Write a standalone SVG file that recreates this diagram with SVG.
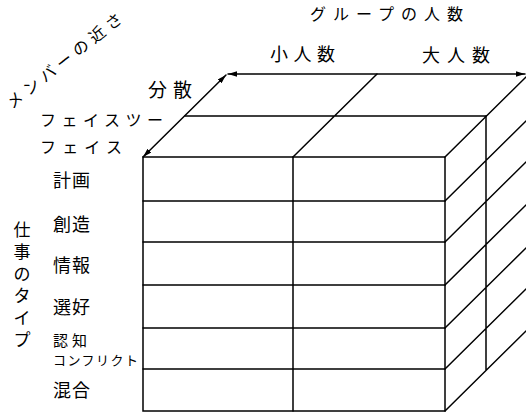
<svg xmlns="http://www.w3.org/2000/svg" width="526" height="415" viewBox="0 0 526 415">
<style>
.ln{stroke:#000;stroke-width:1.5;fill:none;stroke-linecap:round}
.t{font-family:"Noto Sans CJK JP","Noto Sans CJK SC",sans-serif;fill:#000}
</style>
<defs>
<marker id="ah" viewBox="0 0 10 6" refX="10" refY="3" markerWidth="9" markerHeight="5.4" markerUnits="userSpaceOnUse" orient="auto-start-reverse">
<path d="M0,0 L10,3 L0,6 z" fill="#000"/>
</marker>
</defs>
<rect width="526" height="415" fill="#fff"/>
<g id="cube">
<g id="front-face">
<rect class="ln" x="143" y="157" width="302" height="254"/>
<path class="ln" d="M143,201H445M143,242H445M143,285H445M143,328H445M143,369H445M293,157V411"/>
</g>
<g id="top-face">
<path class="ln" d="M185,116H486M293,157L377,74M445,157L529,74"/>
</g>
<g id="side-face">
<path class="ln" d="M445,201L529,118M445,242L529,159M445,285L529,202M445,328L529,245M445,369L529,286M445,411L529,328M486,116V370"/>
</g>
</g>
<g id="connectors">
<line class="ln" x1="228" y1="74" x2="525" y2="74" marker-start="url(#ah)" marker-end="url(#ah)"/>
<line class="ln" x1="143" y1="157" x2="226" y2="75" marker-start="url(#ah)" marker-end="url(#ah)"/>
</g>
<g id="labels">
<text class="t" x="310" y="20" font-size="16" textLength="153" lengthAdjust="spacing">グループの人数</text>
<text class="t" x="270" y="61" font-size="18" textLength="65" lengthAdjust="spacing">小人数</text>
<text class="t" x="422" y="62" font-size="18" textLength="68" lengthAdjust="spacing">大人数</text>
<text class="t" x="148" y="97" font-size="19" textLength="44" lengthAdjust="spacing">分散</text>
<text class="t" x="40" y="126" font-size="16" textLength="123" lengthAdjust="spacing">フェイスツー</text>
<text class="t" x="40" y="153" font-size="16" textLength="82" lengthAdjust="spacing">フェイス</text>
<text class="t" transform="translate(15,100) rotate(-38.5)" x="-8" y="5.7" font-size="16" letter-spacing="5">メンバーの近さ</text>
<text class="t" x="53" y="186.5" font-size="18" textLength="37" lengthAdjust="spacing">計画</text>
<text class="t" x="53" y="230.5" font-size="18" textLength="37" lengthAdjust="spacing">創造</text>
<text class="t" x="53" y="271.5" font-size="18" textLength="37" lengthAdjust="spacing">情報</text>
<text class="t" x="53" y="313.5" font-size="18" textLength="37" lengthAdjust="spacing">選好</text>
<text class="t" x="53" y="345.5" font-size="15" textLength="34" lengthAdjust="spacing">認知</text>
<text class="t" x="53" y="364.5" font-size="13" textLength="85" lengthAdjust="spacing">コンフリクト</text>
<text class="t" x="53" y="396.5" font-size="18" textLength="37" lengthAdjust="spacing">混合</text>
<text class="t" x="22 22 22 22 22 22" y="236 258 280 302 324 346" font-size="17" text-anchor="middle">仕事のタイプ</text>
</g>
</svg>
